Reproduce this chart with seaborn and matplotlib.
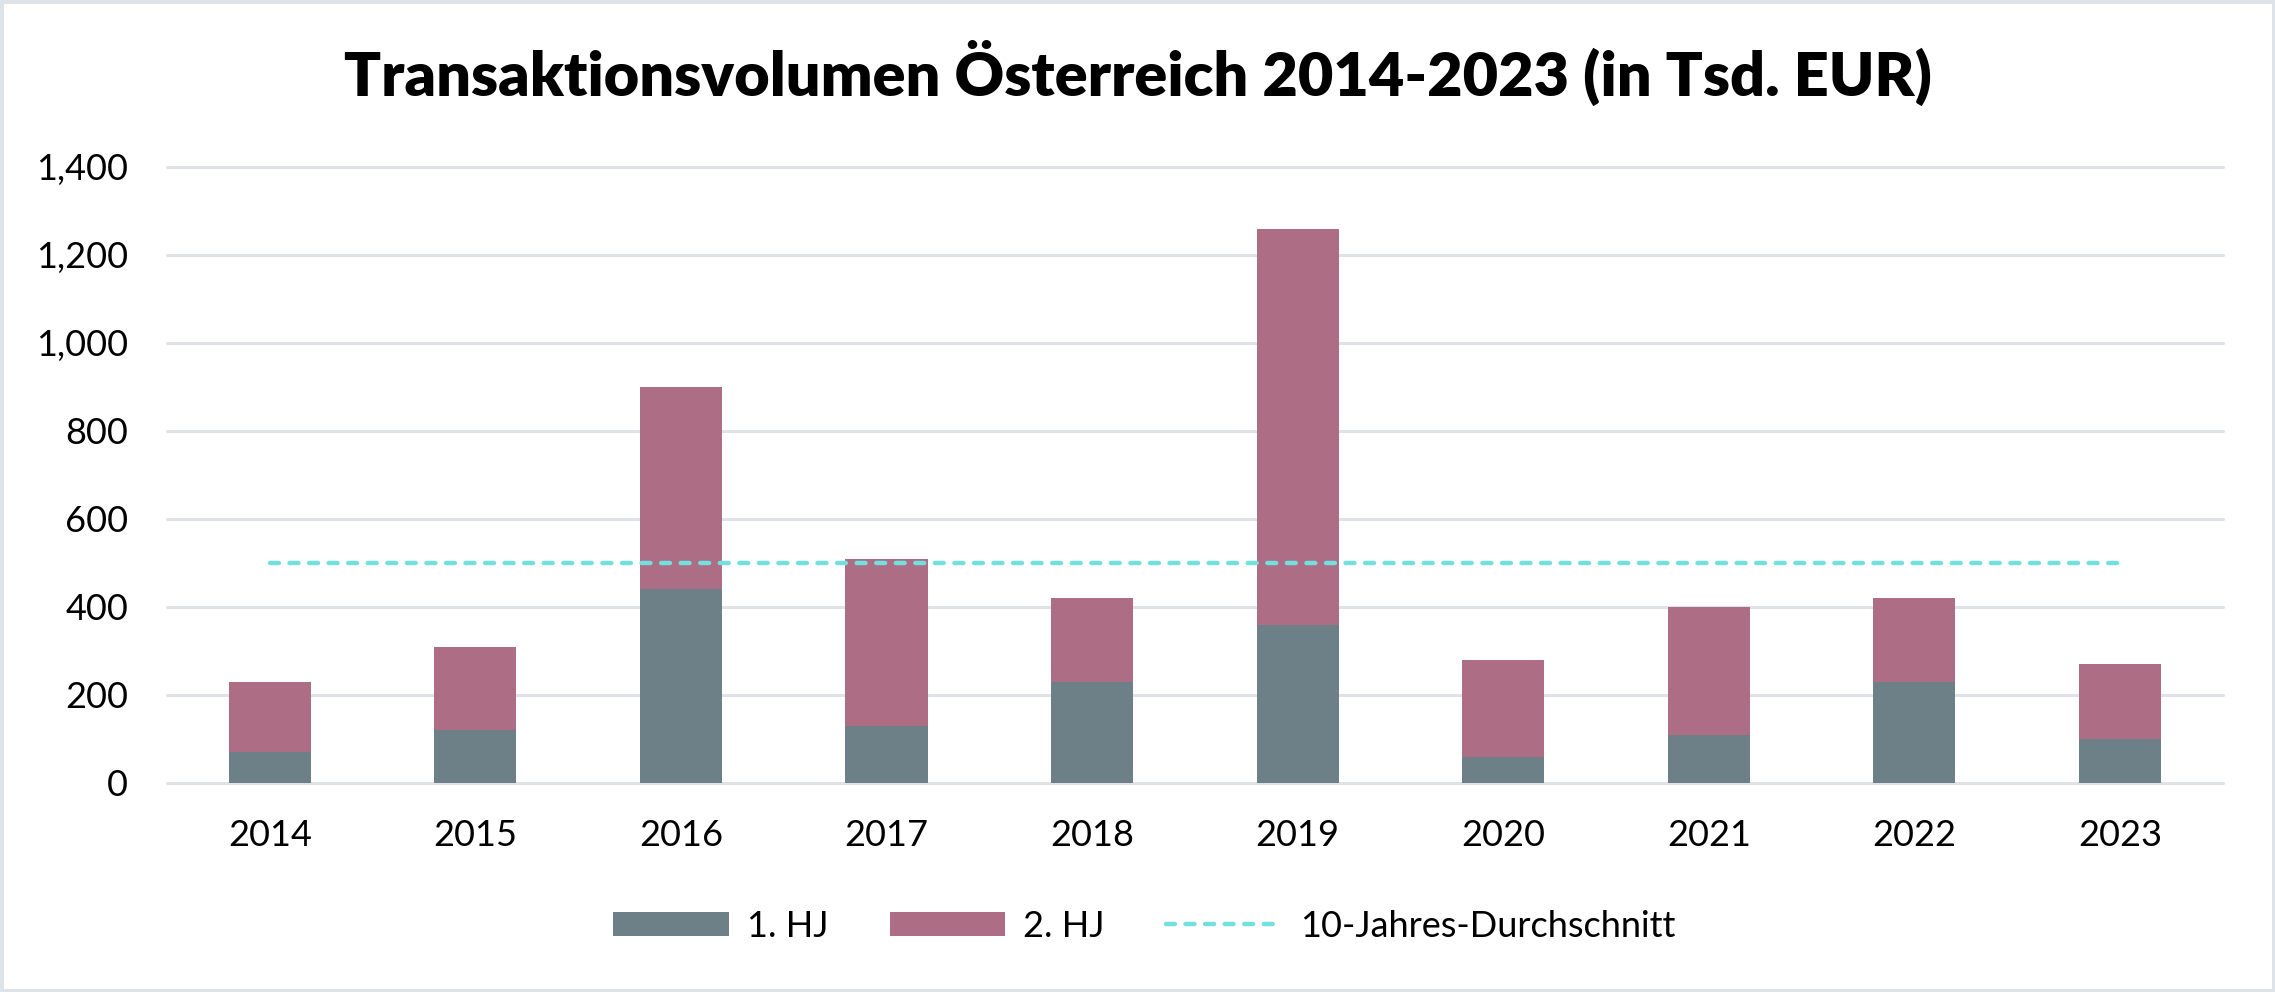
"""
Transaktionsvolumen Österreich 2014-2023, gestapelte Balken nach Halbjahr.
"""
import numpy as np
import pandas as pd
import matplotlib
matplotlib.use("Agg")
import matplotlib.pyplot as plt
import seaborn as sns
from matplotlib.ticker import FuncFormatter

# Daten (in Tsd. EUR)
years = ["2014", "2015", "2016", "2017", "2018", "2019", "2020", "2021", "2022", "2023"]
hj1 = [70, 120, 440, 130, 230, 360, 60, 110, 230, 100]
hj2 = [160, 190, 460, 380, 190, 900, 220, 290, 190, 170]
avg_label = "10-Jahres-Durchschnitt"

df = pd.DataFrame({"Jahr": years, "1. HJ": hj1, "2. HJ": hj2})
df["Gesamt"] = df["1. HJ"] + df["2. HJ"]
avg = df["Gesamt"].mean()

c_hj1 = "#6d8087"
c_hj2 = "#ad6d84"
c_avg = "#72e0de"
c_grid = "#dfe3e7"

sns.set_style("white")
plt.rcParams["font.family"] = ["Lato", "DejaVu Sans"]
plt.rcParams["text.color"] = "black"

fig = plt.figure(figsize=(22.75, 9.92), dpi=100, edgecolor="#dde3e8", linewidth=5)
ax = fig.add_axes([0.0734, 0.2107, 0.9036, 0.621])

# Gestapelt: erst Gesamt (2. HJ sichtbar oben), dann 1. HJ darüber
sns.barplot(data=df, x="Jahr", y="Gesamt", color=c_hj2, width=0.4,
            saturation=1, ax=ax, label="2. HJ", linewidth=0, zorder=3)
sns.barplot(data=df, x="Jahr", y="1. HJ", color=c_hj1, width=0.4,
            saturation=1, ax=ax, label="1. HJ", linewidth=0, zorder=4)

xpos = np.arange(len(years))
ax.plot(xpos, [avg] * len(years), color=c_avg, lw=3.2, ls=(0, (2.0, 2.4)),
        dash_capstyle="round", label=avg_label, zorder=5)

ax.set_xlim(-0.5, len(years) - 0.5)
ax.set_ylim(0, 1400)
ax.set_yticks(range(0, 1401, 200))
ax.yaxis.set_major_formatter(FuncFormatter(lambda v, p: f"{int(v):,}"))
ax.grid(axis="y", color=c_grid, lw=2.2, zorder=0)
ax.grid(axis="x", visible=False)
for gl in ax.get_ygridlines():
    gl.set_clip_on(False)
sns.despine(ax=ax, left=True, bottom=True)
ax.tick_params(axis="both", length=0, labelsize=26, colors="black")
ax.tick_params(axis="y", pad=28)
ax.tick_params(axis="x", pad=26)
ax.set_xlabel("")
ax.set_ylabel("")

fig.suptitle("Transaktionsvolumen Österreich 2014-2023 (in Tsd. EUR)",
             fontsize=44, fontweight="heavy", color="black", y=0.926, va="center")

handles, labels = ax.get_legend_handles_labels()
if ax.get_legend() is not None:
    ax.get_legend().remove()
order = [labels.index("1. HJ"), labels.index("2. HJ"), labels.index(avg_label)]
fig.legend([handles[i] for i in order], [labels[i] for i in order],
           loc="center", bbox_to_anchor=(0.503, 0.0665), ncol=3, frameon=False,
           fontsize=26, labelcolor="black", handlelength=3.2, handleheight=0.65,
           handletextpad=0.5, columnspacing=1.7)

fig.savefig("out.png", dpi=100, edgecolor=fig.get_edgecolor())
